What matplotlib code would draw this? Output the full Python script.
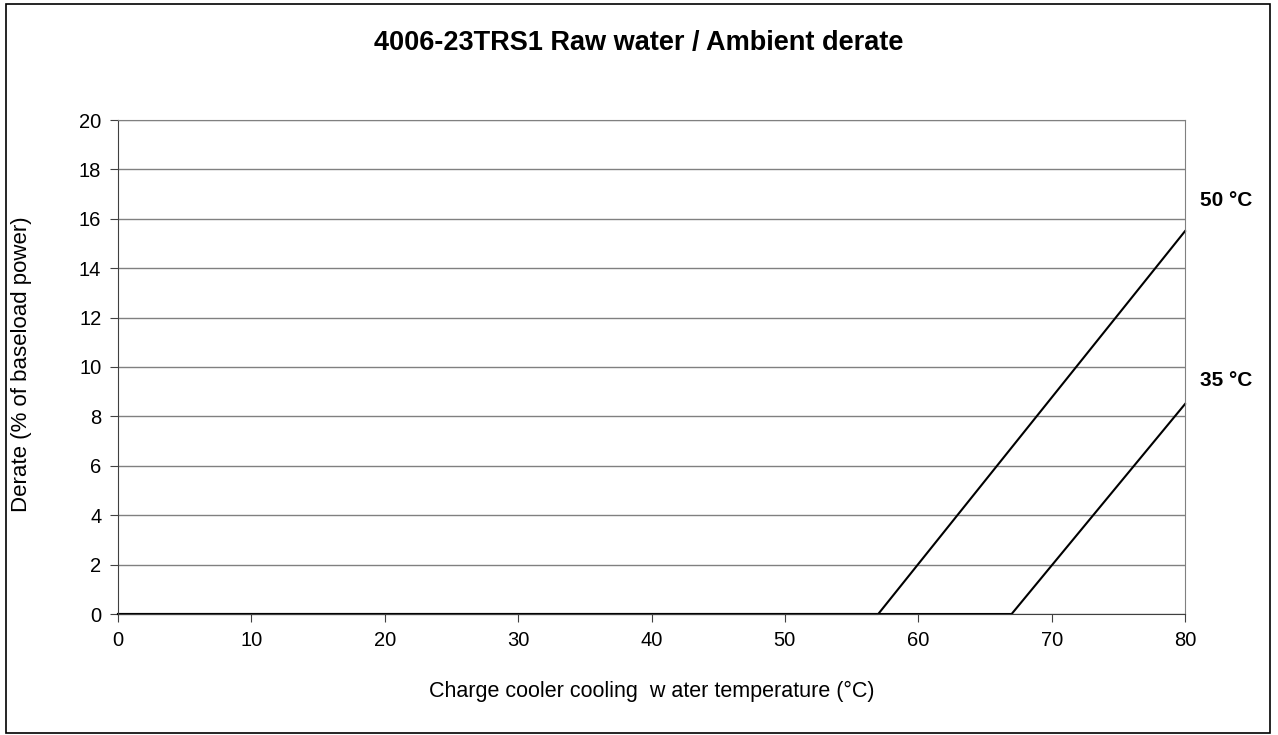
"""Raw water / ambient derate chart for the 4006-23TRS1."""
import matplotlib.pyplot as plt
from matplotlib.patches import Rectangle

plt.rcParams.update({"font.family": ["Liberation Sans", "DejaVu Sans"], "font.size": 14})

# derate curves (water temp degC -> derate %)
temp_50 = [0, 57, 80]
derate_50 = [0, 0, 15.5]
temp_35 = [0, 67, 80]
derate_35 = [0, 0, 8.5]
curve_labels = ["50 °C", "35 °C"]

W, H = 1278, 735
fig = plt.figure(figsize=(W / 100, H / 100), dpi=100)
ax = fig.add_axes([118 / W, 1 - 614 / H, (1185 - 118) / W, (614 - 120) / H])

# outer chart frame
fig.patches.append(Rectangle((6 / W, 2 / H), 1264 / W, 729 / H, transform=fig.transFigure,
                             fill=False, edgecolor="black", linewidth=1.2))

ax.plot(temp_50, derate_50, color="black", linewidth=1.5, clip_on=False)
ax.plot(temp_35, derate_35, color="black", linewidth=1.5, clip_on=False)

ax.set_xlim(0, 80)
ax.set_ylim(0, 20)
ax.set_xticks(range(0, 81, 10))
ax.set_yticks(range(0, 21, 2))
ax.yaxis.grid(True, color="#808080", linewidth=1)
ax.set_axisbelow(True)
for side in ["top", "right"]:
    ax.spines[side].set_color("#808080")
for side in ["left", "bottom"]:
    ax.spines[side].set_color("#404040")
ax.tick_params(direction="out", length=6, color="#404040", labelsize=14.5, pad=6)

fig.text(652 / W, 1 - 691 / H, "Charge cooler cooling  w ater temperature (°C)",
         ha="center", va="center", fontsize=15.5)
fig.text(22 / W, 1 - 364 / H, "Derate (% of baseload power)", ha="center", va="center",
         rotation=90, fontsize=16)
fig.text(639 / W, 1 - 43 / H, "4006-23TRS1 Raw water / Ambient derate", ha="center",
         va="center", fontsize=19.5, fontweight="bold")

ax.text(1.0145, (614 - 200) / 494, curve_labels[0], transform=ax.transAxes,
        fontsize=15, fontweight="bold", va="center", ha="left")
ax.text(1.0145, (614 - 380) / 494, curve_labels[1], transform=ax.transAxes,
        fontsize=15, fontweight="bold", va="center", ha="left")

fig.savefig("out.png", dpi=100)
